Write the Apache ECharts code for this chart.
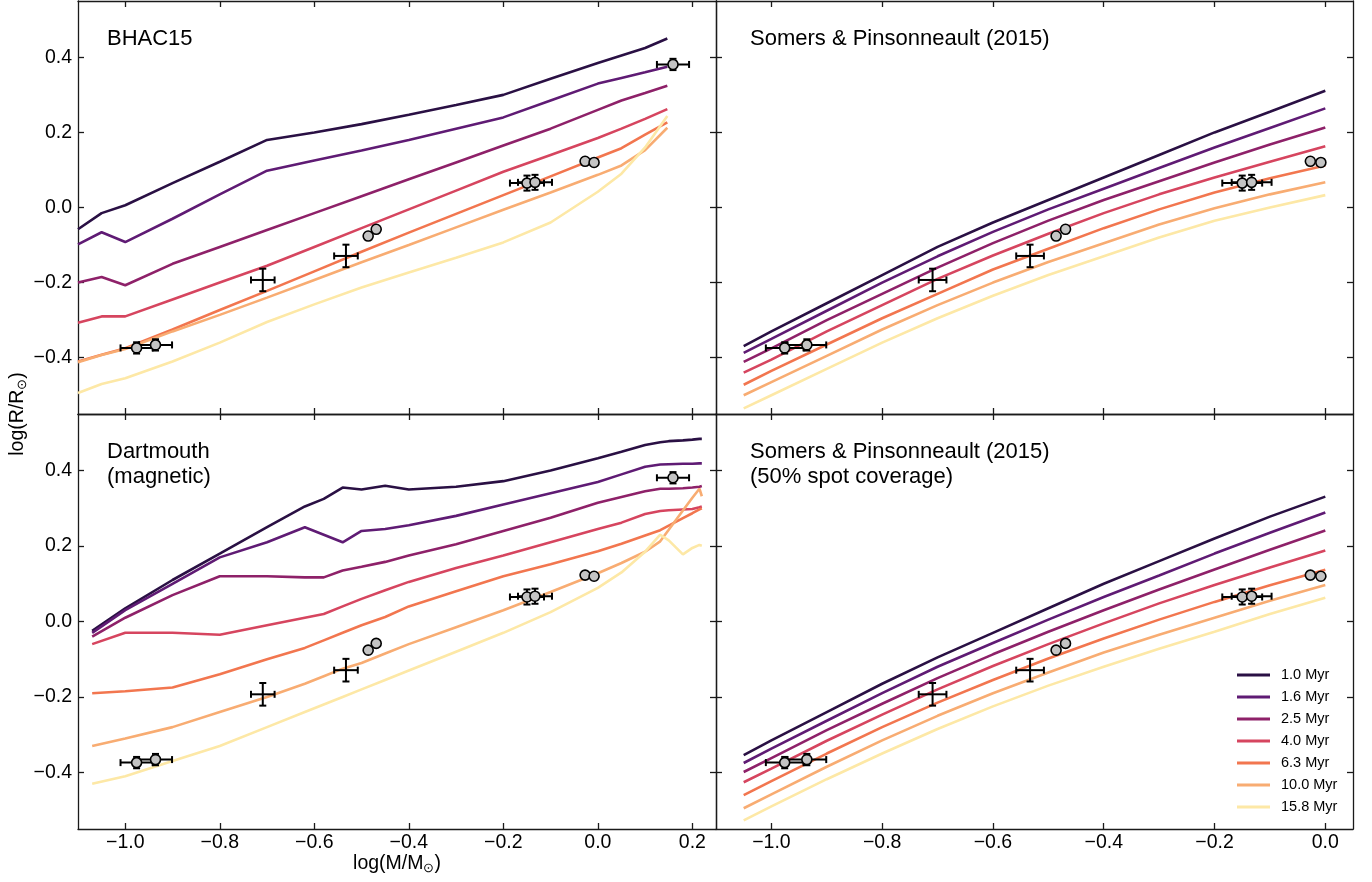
<!DOCTYPE html>
<html><head><meta charset="utf-8">
<script src="https://cdn.jsdelivr.net/npm/echarts@6/dist/echarts.min.js"></script>
<style>html,body{margin:0;padding:0;background:#fff}#c{width:1372px;height:882px}</style>
</head><body><div id="c"></div>
<script>
const ages = ['1.0 Myr','1.6 Myr','2.5 Myr','4.0 Myr','6.3 Myr','10.0 Myr','15.8 Myr'];
const colors = ['#2a1044','#5f1b74','#8e2169','#d6455f','#f2764f','#f8ac72','#fde8a6'];
const xTicks = [-1.0,-0.8,-0.6,-0.4,-0.2,0.0,0.2];
const yTicks = [-0.4,-0.2,0.0,0.2,0.4];

// BHAC15
const bhacX = [-1.1,-1.05,-1.0,-0.9,-0.8,-0.7,-0.6,-0.5,-0.4,-0.3,-0.2,-0.1,0.0,0.05,0.1,0.147];
const bhacY = [
 [-0.058,-0.015,0.006,0.065,0.122,0.18,0.20,0.222,0.247,0.273,0.30,0.343,0.385,0.405,0.425,0.45],
 [-0.098,-0.066,-0.092,-0.03,0.035,0.098,0.125,0.152,0.18,0.21,0.24,0.285,0.33,0.345,0.36,0.375],
 [-0.20,-0.185,-0.207,-0.15,-0.105,-0.06,-0.015,0.03,0.075,0.12,0.165,0.21,0.26,0.285,0.305,0.324],
 [-0.307,-0.29,-0.29,-0.245,-0.2,-0.155,-0.105,-0.055,-0.005,0.045,0.095,0.14,0.185,0.21,0.236,0.262],
 [-0.41,-0.392,-0.375,-0.325,-0.273,-0.222,-0.17,-0.118,-0.067,-0.017,0.033,0.083,0.133,0.158,0.194,0.227],
 [-0.412,-0.393,-0.377,-0.33,-0.286,-0.24,-0.193,-0.146,-0.1,-0.053,-0.006,0.04,0.087,0.112,0.153,0.2125],
 [-0.494,-0.47,-0.455,-0.41,-0.36,-0.305,-0.258,-0.213,-0.173,-0.134,-0.093,-0.04,0.042,0.09,0.16,0.244]
];
// Somers & Pinsonneault (2015)
const spX = [-1.05,-1.0,-0.9,-0.8,-0.7,-0.6,-0.5,-0.4,-0.3,-0.2,-0.1,0.0];
const spY = [
 [-0.369,-0.33,-0.255,-0.18,-0.105,-0.04,0.02,0.08,0.14,0.2,0.255,0.311],
 [-0.387,-0.35,-0.275,-0.2,-0.13,-0.065,-0.005,0.05,0.105,0.16,0.212,0.264],
 [-0.411,-0.375,-0.3,-0.23,-0.16,-0.095,-0.035,0.02,0.07,0.12,0.168,0.213],
 [-0.44,-0.405,-0.33,-0.26,-0.19,-0.128,-0.07,-0.015,0.035,0.08,0.122,0.163],
 [-0.472,-0.435,-0.365,-0.295,-0.23,-0.165,-0.11,-0.055,-0.005,0.04,0.078,0.112],
 [-0.50,-0.465,-0.395,-0.325,-0.26,-0.2,-0.145,-0.095,-0.045,-0.002,0.035,0.067],
 [-0.535,-0.5,-0.43,-0.36,-0.295,-0.235,-0.18,-0.13,-0.08,-0.035,0.0,0.033]
];
// Dartmouth (magnetic)
const dmX = [-1.07,-1.0,-0.9,-0.8,-0.7,-0.62,-0.58,-0.54,-0.5,-0.45,-0.4,-0.3,-0.2,-0.1,0.0,0.05,0.1,0.132,0.15,0.18,0.2,0.215,0.22];
const dmY = [
 [-0.025,0.035,0.11,0.18,0.25,0.305,0.325,0.355,0.35,0.36,0.35,0.357,0.372,0.4,0.433,0.45,0.468,0.475,0.478,0.48,0.482,0.484,0.484],
 [-0.03,0.03,0.1,0.17,0.21,0.25,0.23,0.21,0.24,0.245,0.255,0.28,0.31,0.34,0.37,0.39,0.41,0.416,0.417,0.418,0.418,0.419,0.419],
 [-0.04,0.01,0.07,0.12,0.12,0.117,0.117,0.135,0.145,0.158,0.175,0.205,0.24,0.275,0.315,0.33,0.345,0.352,0.352,0.353,0.355,0.357,0.359],
 [-0.06,-0.03,-0.03,-0.035,-0.01,0.01,0.02,0.04,0.06,0.083,0.105,0.142,0.175,0.21,0.245,0.262,0.285,0.293,0.295,0.297,0.298,0.303,0.305],
 [-0.19,-0.185,-0.175,-0.14,-0.1,-0.07,-0.05,-0.03,-0.01,0.012,0.04,0.08,0.12,0.152,0.186,0.206,0.228,0.242,0.254,0.274,0.287,0.297,0.30],
 [-0.33,-0.31,-0.28,-0.24,-0.2,-0.165,-0.145,-0.125,-0.11,-0.085,-0.06,-0.015,0.03,0.078,0.128,0.155,0.185,0.2125,0.243,0.294,0.328,0.352,0.332],
 [-0.43,-0.41,-0.37,-0.33,-0.28,-0.24,-0.22,-0.2,-0.18,-0.155,-0.13,-0.08,-0.03,0.025,0.089,0.13,0.185,0.23,0.215,0.178,0.195,0.203,0.201]
];
// Somers & Pinsonneault (2015), 50% spot coverage
const spsX = [-1.05,-1.0,-0.9,-0.8,-0.7,-0.6,-0.5,-0.4,-0.3,-0.2,-0.1,0.0];
const spsY = [
 [-0.354,-0.315,-0.24,-0.165,-0.095,-0.03,0.035,0.1,0.16,0.22,0.278,0.331],
 [-0.375,-0.337,-0.263,-0.19,-0.12,-0.057,0.005,0.065,0.122,0.18,0.235,0.289],
 [-0.399,-0.362,-0.288,-0.218,-0.15,-0.087,-0.027,0.03,0.085,0.138,0.19,0.241],
 [-0.426,-0.39,-0.316,-0.247,-0.18,-0.118,-0.06,-0.005,0.048,0.097,0.143,0.188],
 [-0.46,-0.423,-0.35,-0.28,-0.215,-0.155,-0.098,-0.045,0.005,0.052,0.096,0.137],
 [-0.495,-0.458,-0.385,-0.315,-0.25,-0.19,-0.135,-0.082,-0.035,0.01,0.055,0.097],
 [-0.527,-0.49,-0.418,-0.35,-0.285,-0.225,-0.17,-0.12,-0.072,-0.027,0.02,0.063]
];
// Observed stars
const obsX    = [-0.976,-0.936,-0.709,-0.533,-0.486,-0.469,-0.150,-0.133,-0.027,-0.008,0.159];
const obsY    = [-0.374,-0.366,-0.193,-0.129,-0.076,-0.058,0.065,0.067,0.123,0.120,0.381];
const obsXErr = [0.034,0.035,0.025,0.025,0,0,0.036,0.036,0,0,0.034];
const obsYErr = [0.015,0.015,0.03,0.03,0,0,0.02,0.02,0,0,0.015];
const obsCircle=[1,1,0,0,1,1,1,1,1,1,1];

const FONT = 'Liberation Sans, Arial, Helvetica, sans-serif';
const panels = [
  {x:bhacX, y:bhacY, xmin:-1.1, xmax:0.25, left:78, top:1, w:638, h:413, title:'BHAC15', tx:29, xl:false, yl:true},
  {x:spX, y:spY, xmin:-1.1, xmax:0.05, left:716, top:1, w:637, h:413, title:'Somers & Pinsonneault (2015)', tx:34, xl:false, yl:false},
  {x:dmX, y:dmY, xmin:-1.1, xmax:0.25, left:78, top:414, w:638, h:415, title:'Dartmouth\n(magnetic)', tx:29, xl:true, yl:true},
  {x:spsX, y:spsY, xmin:-1.1, xmax:0.05, left:716, top:414, w:637, h:415, title:'Somers & Pinsonneault (2015)\n(50% spot coverage)', tx:34, xl:true, yl:false}
];
const fmt = v => (Math.abs(v) < 1e-9 ? '0.0' : v.toFixed(1).replace('-', '\u2212'));
const axLine = {show:true, onZero:false, lineStyle:{color:'#1a1a1a', width:1.3}};
const axTick = vals => ({show:true, inside:true, length:6, customValues:vals, lineStyle:{color:'#1a1a1a', width:1.3}});

const grid=[], xAxis=[], yAxis=[], series=[], title=[];
panels.forEach((p, g) => {
  grid.push({left:p.left, top:p.top, width:p.w, height:p.h, containLabel:false});
  const xb = {type:'value', gridIndex:g, min:p.xmin, max:p.xmax, position:'bottom', axisLine:axLine,
    axisTick:axTick(xTicks), splitLine:{show:false},
    axisLabel:{show:p.xl, customValues:xTicks, formatter:fmt, margin:4, color:'#000', fontSize:19.5, fontFamily:FONT}};
  if (g === 2) Object.assign(xb, {name:'log(M/M{s|\u2299})', nameLocation:'middle', nameGap:22,
    nameTextStyle:{color:'#000', fontSize:19.5, fontFamily:FONT, rich:{s:{fontSize:13, fontFamily:FONT, padding:[9,0,0,0]}}}});
  xAxis.push(xb);
  xAxis.push({type:'value', gridIndex:g, min:p.xmin, max:p.xmax, position:'top', axisLine:axLine,
    axisTick:axTick(xTicks), axisLabel:{show:false}, splitLine:{show:false}});
  yAxis.push({type:'value', gridIndex:g, min:-0.55, max:0.55, position:'left', axisLine:axLine,
    axisTick:axTick(yTicks), splitLine:{show:false},
    axisLabel:{show:p.yl, customValues:yTicks, formatter:fmt, margin:6, color:'#000', fontSize:19.5, fontFamily:FONT}});
  yAxis.push({type:'value', gridIndex:g, min:-0.55, max:0.55, position:'right', axisLine:axLine,
    axisTick:axTick(yTicks), axisLabel:{show:false}, splitLine:{show:false}});
  title.push({text:p.title, left:p.left + p.tx, top:p.top + 25, padding:0,
    textStyle:{color:'#000', fontSize:22, fontWeight:'normal', fontFamily:FONT, lineHeight:25}});
  ages.forEach((a, k) => {
    const data = [];
    p.x.forEach((xv, i) => { if (p.y[k][i] != null) data.push([xv, p.y[k][i]]); });
    series.push({type:'line', name:a, xAxisIndex:2*g, yAxisIndex:2*g, data, showSymbol:false, symbol:'none',
      lineStyle:{color:colors[k], width:2.6}, itemStyle:{color:colors[k]}, clip:true, z:2, silent:true});
  });
  const obs = obsX.map((x,i) => [x, obsY[i], obsXErr[i], obsYErr[i]]);
  series.push({type:'custom', xAxisIndex:2*g, yAxisIndex:2*g, data:obs, clip:true, z:5, silent:true,
    renderItem:(params, api) => {
      const x = api.value(0), y = api.value(1), xe = api.value(2), ye = api.value(3);
      const st = {stroke:'#000', lineWidth:2};
      const ch = [];
      const c = 3.5;
      if (xe > 0) {
        const a = api.coord([x - xe, y]), b = api.coord([x + xe, y]);
        ch.push({type:'line', shape:{x1:a[0], y1:a[1], x2:b[0], y2:b[1]}, style:st});
        ch.push({type:'line', shape:{x1:a[0], y1:a[1]-c, x2:a[0], y2:a[1]+c}, style:st});
        ch.push({type:'line', shape:{x1:b[0], y1:b[1]-c, x2:b[0], y2:b[1]+c}, style:st});
      }
      if (ye > 0) {
        const a = api.coord([x, y - ye]), b = api.coord([x, y + ye]);
        ch.push({type:'line', shape:{x1:a[0], y1:a[1], x2:b[0], y2:b[1]}, style:st});
        ch.push({type:'line', shape:{x1:a[0]-c, y1:a[1], x2:a[0]+c, y2:a[1]}, style:st});
        ch.push({type:'line', shape:{x1:b[0]-c, y1:b[1], x2:b[0]+c, y2:b[1]}, style:st});
      }
      return {type:'group', children:ch};
    }});
  series.push({type:'scatter', xAxisIndex:2*g, yAxisIndex:2*g, silent:true, z:6, clip:true,
    data: obsX.map((x,i) => obsCircle[i] ? [x, obsY[i]] : null).filter(d => d),
    symbol:'circle', symbolSize:10, itemStyle:{color:'#c4c4c4', borderColor:'#000', borderWidth:1.6, opacity:1}});
});

const chart = echarts.init(document.getElementById('c'), null, {renderer:'canvas'});
chart.setOption({
  animation:false, backgroundColor:'#fff',
  grid, xAxis, yAxis, series, title,
  legend:{data:ages.map(a => ({name:a, icon:'rect'})), orient:'vertical', left:1237, top:667, padding:0,
    itemWidth:33, itemHeight:3, itemGap:6,
    textStyle:{color:'#000', fontSize:14.5, fontFamily:FONT, lineHeight:16, padding:[0,0,0,6]},
    selectedMode:false},
  graphic:[{type:'text', x:18, y:414, rotation:Math.PI/2,
    style:{text:'log(R/R{s|\u2299})', fill:'#000', align:'center', verticalAlign:'middle',
      font:'19.5px '+FONT, rich:{s:{fontSize:13, fontFamily:FONT, padding:[9,0,0,0]}}}}]
});
</script></body></html>
